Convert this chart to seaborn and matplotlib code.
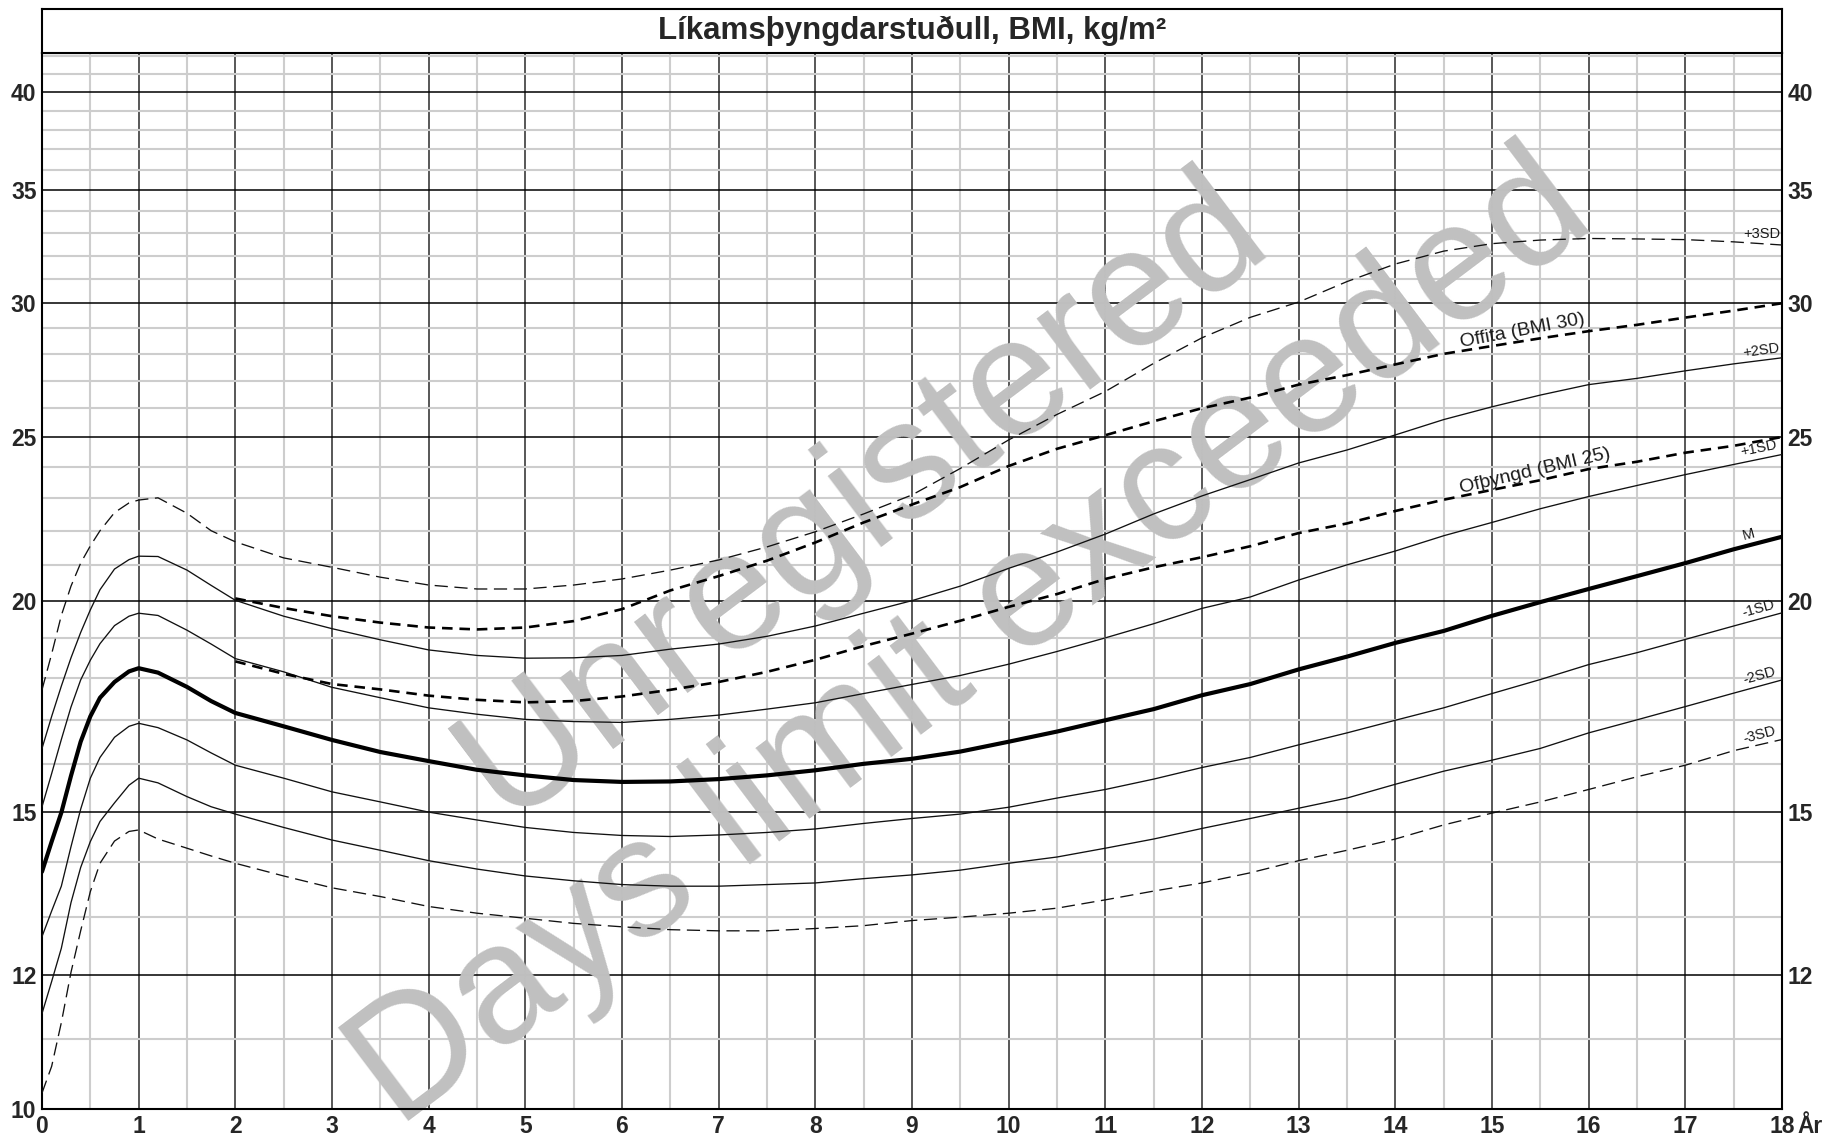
import math
import numpy as np
import matplotlib
matplotlib.use("Agg")
import matplotlib.pyplot as plt
from matplotlib import font_manager
from matplotlib.ticker import FixedLocator, FixedFormatter, NullFormatter, NullLocator
import seaborn as sns

# ---- data -------------------------------------------------------------
TITLE = "Líkamsþyngdarstuðull, BMI, kg/m²"

AGE = [0, 0.1, 0.2, 0.3, 0.4, 0.5, 0.6, 0.75, 0.9, 1.0, 1.2, 1.5, 1.75, 2.0,
       2.5, 3, 3.5, 4, 4.5, 5, 5.5, 6, 6.5, 7, 7.5, 8, 8.5, 9, 9.5, 10,
       10.5, 11, 11.5, 12, 12.5, 13, 13.5, 14, 14.5, 15, 15.5, 16, 16.5, 17,
       17.5, 18]

SD3P = [17.71, 18.6, 19.6, 20.4, 21.05, 21.55, 22.0, 22.55, 22.85, 22.94, 23.01, 22.53, 22.0, 21.67,
        21.2, 20.93, 20.65, 20.43, 20.32, 20.32, 20.43, 20.6, 20.85, 21.14, 21.52, 21.97, 22.51, 23.1,
        23.95, 24.9, 25.78, 26.6, 27.64, 28.62, 29.43, 30.05, 30.9, 31.65, 32.21, 32.54, 32.7, 32.77,
        32.75, 32.72, 32.62, 32.48]
SD2P = [16.35, 17.08, 17.8, 18.5, 19.15, 19.75, 20.3, 20.88, 21.15, 21.25, 21.24, 20.85, 20.42, 20.01,
        19.58, 19.25, 18.96, 18.7, 18.56, 18.49, 18.5, 18.56, 18.72, 18.85, 19.05, 19.32, 19.66, 20.0,
        20.4, 20.9, 21.37, 21.9, 22.51, 23.07, 23.59, 24.13, 24.56, 25.07, 25.6, 26.05, 26.47, 26.85,
        27.08, 27.36, 27.62, 27.85]
SD1P = [15.1, 15.8, 16.55, 17.3, 17.95, 18.44, 18.86, 19.33, 19.58, 19.66, 19.6, 19.21, 18.85, 18.48,
        18.15, 17.77, 17.52, 17.28, 17.13, 17.01, 16.96, 16.94, 17.01, 17.11, 17.25, 17.4, 17.62, 17.84,
        18.06, 18.34, 18.66, 19.01, 19.38, 19.79, 20.1, 20.57, 21.0, 21.4, 21.85, 22.25, 22.67, 23.05,
        23.4, 23.75, 24.08, 24.41]
MEDIAN = [13.82, 14.4, 14.98, 15.75, 16.5, 17.08, 17.52, 17.9, 18.16, 18.24, 18.13, 17.78, 17.44, 17.16,
          16.85, 16.54, 16.27, 16.07, 15.88, 15.76, 15.66, 15.62, 15.63, 15.68, 15.76, 15.87, 16.01, 16.12,
          16.28, 16.5, 16.73, 16.99, 17.25, 17.58, 17.85, 18.21, 18.53, 18.88, 19.19, 19.59, 19.96, 20.32,
          20.68, 21.05, 21.45, 21.82]
SD1N = [12.65, 13.1, 13.55, 14.3, 15.05, 15.7, 16.15, 16.6, 16.85, 16.92, 16.82, 16.54, 16.25, 15.98,
        15.7, 15.41, 15.2, 14.99, 14.83, 14.68, 14.58, 14.52, 14.5, 14.53, 14.58, 14.65, 14.76, 14.86,
        14.95, 15.09, 15.28, 15.46, 15.68, 15.93, 16.15, 16.43, 16.7, 16.99, 17.28, 17.62, 17.96, 18.33,
        18.63, 18.97, 19.32, 19.67]
SD2N = [11.39, 11.9, 12.45, 13.25, 13.9, 14.4, 14.8, 15.18, 15.55, 15.7, 15.6, 15.31, 15.1, 14.95,
        14.68, 14.43, 14.23, 14.03, 13.87, 13.74, 13.65, 13.58, 13.55, 13.55, 13.58, 13.61, 13.69, 13.76,
        13.85, 13.98, 14.1, 14.27, 14.45, 14.66, 14.86, 15.07, 15.28, 15.57, 15.85, 16.09, 16.35, 16.7,
        17.0, 17.31, 17.63, 17.95]
SD3N = [10.22, 10.6, 11.25, 12.05, 12.75, 13.45, 13.98, 14.41, 14.6, 14.63, 14.45, 14.27, 14.12, 13.98,
        13.74, 13.52, 13.36, 13.18, 13.06, 12.97, 12.88, 12.82, 12.77, 12.75, 12.75, 12.79, 12.84, 12.93,
        12.99, 13.06, 13.15, 13.3, 13.46, 13.61, 13.8, 14.03, 14.23, 14.45, 14.73, 14.97, 15.2, 15.46,
        15.73, 15.98, 16.3, 16.55]

# overweight / obesity cut-offs (from age 2)
AGE_CUT = [2, 2.5, 3, 3.5, 4, 4.5, 5, 5.5, 6, 6.5, 7, 7.5, 8, 8.5, 9, 9.5, 10,
           10.5, 11, 11.5, 12, 12.5, 13, 13.5, 14, 14.5, 15, 15.5, 16, 16.5, 17, 17.5, 18]
OFFITA = [20.06, 19.8, 19.58, 19.41, 19.28, 19.23, 19.28, 19.45, 19.77, 20.28, 20.68, 21.12, 21.65,
          22.25, 22.8, 23.35, 24.03, 24.6, 25.06, 25.54, 26.0, 26.38, 26.85, 27.2, 27.6, 28.0, 28.3,
          28.6, 28.88, 29.13, 29.42, 29.7, 30.0]
OFTHYNGD = [18.41, 18.1, 17.85, 17.72, 17.57, 17.47, 17.41, 17.44, 17.55, 17.71, 17.9, 18.15, 18.45,
            18.8, 19.12, 19.46, 19.83, 20.18, 20.6, 20.93, 21.22, 21.54, 21.93, 22.22, 22.6, 22.95,
            23.26, 23.57, 23.93, 24.17, 24.47, 24.7, 25.0]

Y_TICKS = [10, 12, 15, 20, 25, 30, 35, 40]
Y_TICKS_RIGHT = [12, 15, 20, 25, 30, 35, 40]
X_TICKS = list(range(19))
X_LABELS = [str(v) for v in X_TICKS]
UNIT_X = "År"
LABEL_OFFITA = "Offita (BMI 30)"
LABEL_OFTHYNGD = "Ofþyngd (BMI 25)"
WATERMARK = "Unregistered\nDays limit exceeded"

# ---- style ------------------------------------------------------------
sns.set_style("white")
plt.rcParams["font.family"] = ["Liberation Sans", "DejaVu Sans"]

installed = {f.name for f in font_manager.fontManager.ttflist}
if "Liberation Sans Narrow" in installed:
    tick_family, tick_size = ["Liberation Sans Narrow", "Liberation Sans", "DejaVu Sans"], 19
else:
    tick_family, tick_size = ["Liberation Sans", "DejaVu Sans"], 16.5

W, H = 1834, 1139
fig = plt.figure(figsize=(W / 100, H / 100), dpi=100)
L, R = 42 / W, 1782 / W
B, T = (H - 1109) / H, (H - 53) / H
TOP = (H - 9) / H
ax = fig.add_axes([L, B, R - L, T - B])

ax.set_yscale("log")
ax.set_xlim(0, 18)
ax.set_ylim(10, 42.2)

ax.xaxis.set_major_locator(FixedLocator(X_TICKS))
ax.xaxis.set_major_formatter(FixedFormatter(X_LABELS))
ax.xaxis.set_minor_locator(FixedLocator(np.arange(0.5, 18, 1.0)))
ax.xaxis.set_minor_formatter(NullFormatter())
ax.yaxis.set_major_locator(FixedLocator(Y_TICKS))
ax.yaxis.set_major_formatter(FixedFormatter([str(v) for v in Y_TICKS]))
ax.yaxis.set_minor_locator(FixedLocator(list(range(10, 43))))
ax.yaxis.set_minor_formatter(NullFormatter())

ax.set_axisbelow(True)
ax.grid(which="minor", color="#cdcdcd", lw=1.5)
ax.grid(which="major", axis="y", color="#000000", lw=1.1)
ax.grid(which="major", axis="x", color="#2a2a2a", lw=1.1)

ax.tick_params(axis="both", which="both", length=0)
ax.tick_params(axis="y", pad=4, labelsize=tick_size)
ax.tick_params(axis="x", pad=4, labelsize=tick_size)
for lab in ax.xaxis.get_majorticklabels() + ax.yaxis.get_majorticklabels():
    lab.set_family(tick_family)
    lab.set_fontweight("bold")
for spine in ax.spines.values():
    spine.set_color("black")
    spine.set_linewidth(1.5)
    spine.set_visible(True)

# right-hand value scale (no label at the bottom corner)
rax = ax.twinx()
rax.set_yscale("log")
rax.set_ylim(ax.get_ylim())
rax.yaxis.set_major_locator(FixedLocator(Y_TICKS_RIGHT))
rax.yaxis.set_major_formatter(FixedFormatter([str(v) for v in Y_TICKS_RIGHT]))
rax.yaxis.set_minor_locator(NullLocator())
rax.tick_params(axis="y", length=0, pad=4, labelsize=tick_size)
for lab in rax.yaxis.get_majorticklabels():
    lab.set_family(tick_family)
    lab.set_fontweight("bold")
rax.grid(False)
for spine in rax.spines.values():
    spine.set_visible(False)

ax.annotate(UNIT_X, xy=(18, 0), xycoords=("data", "axes fraction"),
            xytext=(11, -4), textcoords="offset points", ha="left", va="top",
            fontsize=tick_size, fontweight="bold", family=tick_family)

# ---- watermark --------------------------------------------------------
ax.text(0.5, 0.5, WATERMARK, transform=fig.transFigure, ha="center", va="center",
        multialignment="center", rotation=37, fontsize=121, color="#c0c0c0",
        zorder=1.5, linespacing=1.2)

# ---- curves -----------------------------------------------------------
thin = dict(color="#111111", lw=0.95)
sns.lineplot(x=AGE, y=SD3P, ax=ax, color="#111111", lw=0.95, linestyle=(0, (10, 5)), zorder=3)
sns.lineplot(x=AGE, y=SD2P, ax=ax, zorder=3, **thin)
sns.lineplot(x=AGE, y=SD1P, ax=ax, zorder=3, **thin)
sns.lineplot(x=AGE, y=MEDIAN, ax=ax, color="black", lw=3.0, zorder=4)
sns.lineplot(x=AGE, y=SD1N, ax=ax, zorder=3, **thin)
sns.lineplot(x=AGE, y=SD2N, ax=ax, zorder=3, **thin)
sns.lineplot(x=AGE, y=SD3N, ax=ax, color="#111111", lw=0.95, linestyle=(0, (10, 5)), zorder=3)
sns.lineplot(x=AGE_CUT, y=OFFITA, ax=ax, color="black", lw=1.9, linestyle=(0, (4, 2.6)), zorder=3)
sns.lineplot(x=AGE_CUT, y=OFTHYNGD, ax=ax, color="black", lw=1.9, linestyle=(0, (4, 2.6)), zorder=3)


def slope_angle(xs, ys, i0, i1):
    p0 = ax.transData.transform((xs[i0], ys[i0]))
    p1 = ax.transData.transform((xs[i1], ys[i1]))
    return math.degrees(math.atan2(p1[1] - p0[1], p1[0] - p0[0]))


curve_labels = [("+3SD", SD3P, 0.0, "right", 17.98),
                ("+2SD", SD2P, None, "right", 17.98),
                ("+1SD", SD1P, None, "right", 17.96),
                ("M", MEDIAN, None, "center", 17.67),
                ("-1SD", SD1N, None, "right", 17.94),
                ("-2SD", SD2N, None, "right", 17.95),
                ("-3SD", SD3N, None, "right", 17.95)]
for text, ys, rot, ha, xpos in curve_labels:
    angle = slope_angle(AGE, ys, -3, -1) if rot is None else rot
    yv = float(np.interp(xpos, AGE, ys))
    ax.annotate(text, xy=(xpos, yv), xytext=(0, 2.5), textcoords="offset points",
                ha=ha, va="bottom", rotation=angle, rotation_mode="anchor",
                fontsize=10.5, color="#1a1a1a", zorder=5)

for text, ys, x0 in [(LABEL_OFFITA, OFFITA, 14.68), (LABEL_OFTHYNGD, OFTHYNGD, 14.68)]:
    yv = float(np.interp(x0, AGE_CUT, ys))
    angle = slope_angle(AGE_CUT, ys, -9, -5)
    ax.annotate(text, xy=(x0, yv), xytext=(0, 2.5), textcoords="offset points",
                ha="left", va="baseline", rotation=angle + 1.0, rotation_mode="anchor",
                fontsize=14, color="#1a1a1a", zorder=5)

# ---- title box --------------------------------------------------------
tax = fig.add_axes([L, T, R - L, TOP - T])
tax.set_xticks([])
tax.set_yticks([])
for spine in tax.spines.values():
    spine.set_color("black")
    spine.set_linewidth(1.5)
tax.text(0.5, 0.5, TITLE, ha="center", va="center", fontsize=22.5, fontweight="bold",
         transform=tax.transAxes)

fig.savefig("out.png", dpi=100, facecolor="white")
